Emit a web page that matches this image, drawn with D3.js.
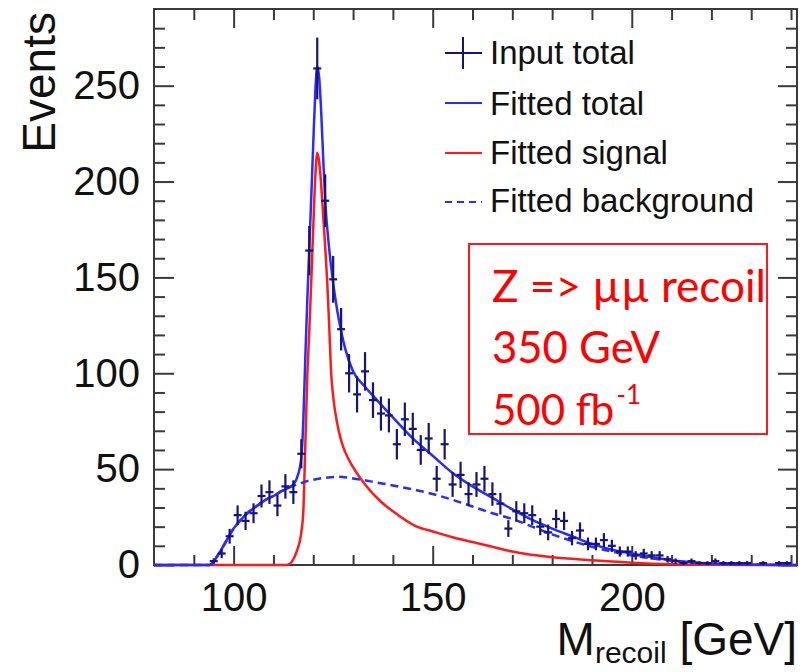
<!DOCTYPE html>
<html><head><meta charset="utf-8">
<script src="https://cdn.jsdelivr.net/npm/d3@7"></script>
<style>body{margin:0;background:#fff} svg{display:block}</style>
</head><body>
<svg id="c" width="810" height="672"></svg>
<script>
// ---- data ----
const binCenters = [95,97,99,101,103,105,107,109,111,113,115,117,119,121,123,125,127,129,131,133,135,137,139,141,143,145,147,149,151,153,155,157,159,161,163,165,167,169,171,173,175,177,179,181,183,185,187,189,191,193,195,197,199,201,203,205,207,209,211,213,215,217,219,221,223,225,227,229,231,233,235,237,239,241];
const counts = [2,6,15,26,23,27,36,38,31,41,38,58,164,259,190,149,123,100,89,101,86,79,78,63,76,71,60,66,45,63,42,47,37,42,45,37,32,19,28,27,26,20,17,24,23,14,18,11,11,13,10,7,7,5,6,5,5,3,2,1,2,1,1,2,1,1,1,1,0,1,0,1,1,0];

const totalX = [80,94,96,98,100,102,104,106,108,110,112,114,115,116,117,117.5,118,118.5,119,119.5,120,120.5,121,121.5,122,122.5,123,124,125,126,127,128,130,133,136,140,145,150,155,160,165,170,175,180,185,190,195,200,205,210,215,220,230,241.5];
const totalY = [0,0,5,12,19,24,28,31,34,36,38.5,40.5,42,46,56,75,108,138,165,192,220,246,260,254,236,212,190,165,147,133,122,113,101,93,86,77,66,57,48,41,35,29,23.5,19,15,11,8,6,4,2.5,1.5,0.8,0.2,0];

const signalX = [80,113,114,115,116,117,117.5,118,118.5,119,119.5,120,120.5,121,121.5,122,122.5,123,123.5,124,124.5,125,126,127,128,130,133,137,140,146,150,155,160,165,170,180,190,200,210,220,241.5];
const signalY = [0,0,0.5,3,8,17,28,62,98,122,148,176,202,215,210,198,182,166,148,125,100,88,74,65,59,51,42,33,28,20,17.5,14.5,12,9.5,7,4,2.5,1.2,0.4,0.1,0];

const bkgX = [80,94,96,98,100,102,104,106,108,110,112,114,116,118,120,123,126,129,132,136,140,146,150,155,160,165,170,175,180,185,190,195,200,205,210,215,220,230,241.5];
const bkgY = [0,0,5,12,19,24,28,31,34,36,38.5,40.5,42,43.5,44.5,45.5,46,45.5,44.5,43,41.5,39,37,34,30.5,27,24,20,16,12.5,9.5,7,5,3.5,2.2,1.3,0.7,0.2,0];

const xMajor = [100,150,200];
const xMinor = [90,110,120,130,140,160,170,180,190,210,220,230,240];
const yMajor = [0,50,100,150,200,250];
const yMinor = [10,20,30,40,60,70,80,90,110,120,130,140,160,170,180,190,210,220,230,240,260,270,280];
const legendLabels = ["Input total","Fitted total","Fitted signal","Fitted background"];
const boxLines = ["Z => \u00B5\u00B5 recoil","350 GeV"];
const boxLast = ["500 fb","-1"];

// ---- layout ----
const m = {l:154, t:9, r:797, b:565};
const svg = d3.select("#c");
const x = d3.scaleLinear().domain([80,241.5]).range([m.l,m.r]);
const y = d3.scaleLinear().domain([0,290]).range([m.b,m.t]);

const BLUE = "#2b2bff", RED = "#ff1a1a", NAVY = "#14147a", AX = "#3a3a3a";
const FONT = "'Liberation Sans', Arial, Helvetica, sans-serif";

svg.append("defs").append("clipPath").attr("id","clip")
  .append("rect").attr("x",m.l).attr("y",m.t).attr("width",m.r-m.l).attr("height",m.b-m.t+2);

function styleAxis(g){ g.select(".domain").remove(); g.selectAll("line").attr("stroke",AX).attr("stroke-width",2); }

const gB = svg.append("g").attr("transform",`translate(0,${m.b})`)
  .call(d3.axisBottom(x).tickValues(xMajor).tickSize(-19).tickPadding(18).tickFormat(d3.format("d")));
styleAxis(gB);
gB.selectAll("text").attr("font-family",FONT).attr("font-size",40).attr("fill","#111");
svg.append("g").attr("transform",`translate(0,${m.b})`)
  .call(d3.axisBottom(x).tickValues(xMinor).tickSize(-10).tickFormat("")).call(styleAxis);
svg.append("g").attr("transform",`translate(0,${m.t})`)
  .call(d3.axisTop(x).tickValues(xMajor).tickSize(-19).tickFormat("")).call(styleAxis);
svg.append("g").attr("transform",`translate(0,${m.t})`)
  .call(d3.axisTop(x).tickValues(xMinor).tickSize(-11).tickFormat("")).call(styleAxis);

const gL = svg.append("g").attr("transform",`translate(${m.l},0)`)
  .call(d3.axisLeft(y).tickValues(yMajor).tickSize(-20).tickPadding(14).tickFormat(d3.format("d")));
styleAxis(gL);
gL.selectAll("text").attr("font-family",FONT).attr("font-size",40).attr("fill","#111");
svg.append("g").attr("transform",`translate(${m.l},0)`)
  .call(d3.axisLeft(y).tickValues(yMinor).tickSize(-11).tickFormat("")).call(styleAxis);
svg.append("g").attr("transform",`translate(${m.r},0)`)
  .call(d3.axisRight(y).tickValues(yMajor).tickSize(-19).tickFormat("")).call(styleAxis);
svg.append("g").attr("transform",`translate(${m.r},0)`)
  .call(d3.axisRight(y).tickValues(yMinor).tickSize(-11).tickFormat("")).call(styleAxis);

svg.append("rect").attr("x",m.l).attr("y",m.t).attr("width",m.r-m.l).attr("height",m.b-m.t)
  .attr("fill","none").attr("stroke",AX).attr("stroke-width",2);

// axis titles
svg.append("text").attr("transform",`translate(55,12) rotate(-90)`).attr("text-anchor","end")
  .attr("font-family",FONT).attr("font-size",46).attr("fill","#111").text("Events");
const xt = svg.append("text").attr("x",m.r).attr("y",655).attr("text-anchor","end")
  .attr("font-family",FONT).attr("font-size",46).attr("fill","#111");
xt.append("tspan").text("M");
xt.append("tspan").attr("font-size",30).attr("dy",8).text("recoil");
xt.append("tspan").attr("dy",-8).text(" [GeV]");

// curves
const plot = svg.append("g").attr("clip-path","url(#clip)");
const line = d3.line().x(d=>x(d[0])).y(d=>y(d[1])).curve(d3.curveMonotoneX);
plot.append("path").attr("d",line(d3.zip(signalX,signalY))).attr("fill","none")
  .attr("stroke",RED).attr("stroke-width",2.5);
plot.append("path").attr("d",line(d3.zip(bkgX,bkgY))).attr("fill","none")
  .attr("stroke",BLUE).attr("stroke-width",2.5).attr("stroke-dasharray","8,5");
plot.append("path").attr("d",line(d3.zip(totalX,totalY))).attr("fill","none")
  .attr("stroke",BLUE).attr("stroke-width",2.5);

// data points with Poisson errors
const pts = d3.zip(binCenters,counts).filter(d=>d[1]>0);
const pg = plot.append("g").attr("stroke",NAVY).attr("stroke-width",2.2);
pg.selectAll(".h").data(pts).join("line")
  .attr("x1",d=>x(d[0]-1)).attr("x2",d=>x(d[0]+1)).attr("y1",d=>y(d[1])).attr("y2",d=>y(d[1]));
pg.selectAll(".v").data(pts).join("line")
  .attr("x1",d=>x(d[0])).attr("x2",d=>x(d[0]))
  .attr("y1",d=>y(d[1]+Math.sqrt(d[1]))).attr("y2",d=>y(Math.max(0,d[1]-Math.sqrt(d[1]))));

// legend
const lg = svg.append("g");
const ly = [53,103,153,202];
const lb = [64,115,164,212];
lg.append("line").attr("x1",445).attr("x2",482).attr("y1",ly[0]).attr("y2",ly[0]).attr("stroke",NAVY).attr("stroke-width",2);
lg.append("line").attr("x1",463).attr("x2",463).attr("y1",ly[0]-16).attr("y2",ly[0]+16).attr("stroke",NAVY).attr("stroke-width",2);
lg.append("line").attr("x1",445).attr("x2",482).attr("y1",ly[1]).attr("y2",ly[1]).attr("stroke",BLUE).attr("stroke-width",2);
lg.append("line").attr("x1",445).attr("x2",482).attr("y1",ly[2]).attr("y2",ly[2]).attr("stroke",RED).attr("stroke-width",2);
lg.append("line").attr("x1",445).attr("x2",482).attr("y1",ly[3]).attr("y2",ly[3]).attr("stroke",BLUE).attr("stroke-width",2).attr("stroke-dasharray","7,5");
lg.selectAll("text").data(legendLabels).join("text")
  .attr("x",490).attr("y",(d,i)=>lb[i]).attr("font-family",FONT).attr("font-size",33).attr("fill","#111").text(d=>d);

// red annotation box
svg.append("rect").attr("x",469).attr("y",244).attr("width",298).attr("height",190)
  .attr("fill","none").attr("stroke",RED).attr("stroke-width",2);
const BF = "Lato, 'Open Sans', sans-serif";
const bb = [302,363], bw = [274,168];
svg.selectAll(".bt").data(boxLines).join("text")
  .attr("x",492).attr("y",(d,i)=>bb[i]).attr("font-family",BF).attr("font-size",44).attr("fill","#ff0000")
  .attr("textLength",(d,i)=>bw[i]).attr("lengthAdjust","spacingAndGlyphs").text(d=>d);
const t3 = svg.append("text").attr("x",492).attr("y",425).attr("font-family",BF).attr("font-size",42).attr("fill","#ff0000");
t3.append("tspan").text(boxLast[0]);
t3.append("tspan").attr("font-size",26).attr("dx",2).attr("dy",-21).text(boxLast[1]);
</script>
</body></html>
